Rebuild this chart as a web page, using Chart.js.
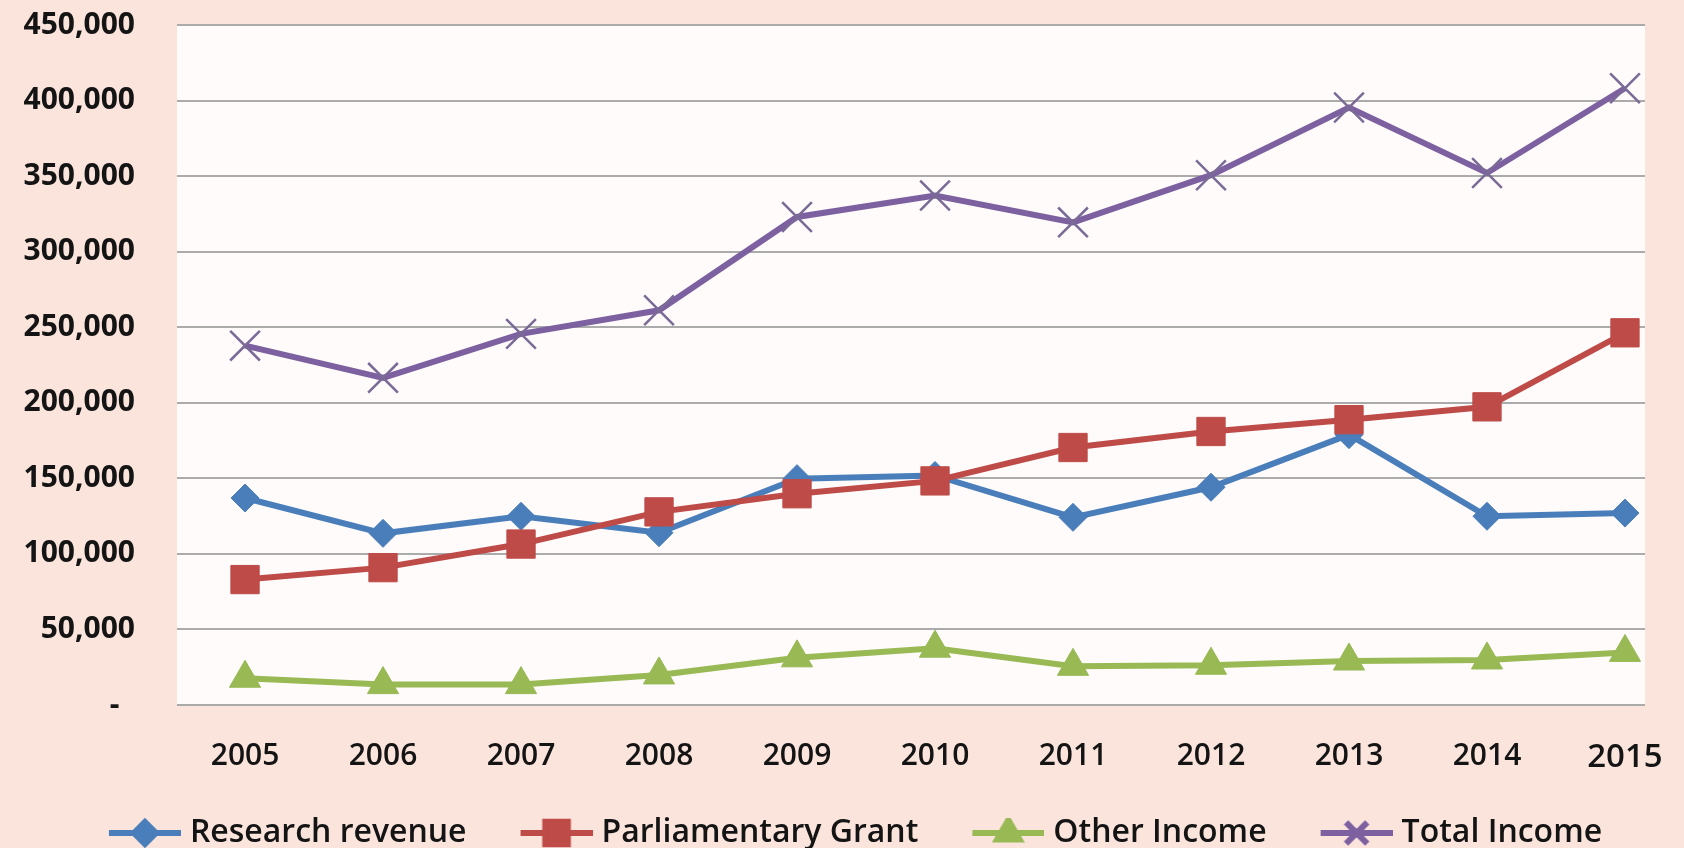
<!DOCTYPE html>
<html>
<head>
<meta charset="utf-8">
<script src="https://cdn.jsdelivr.net/npm/chart.js@4.4.1/dist/chart.umd.min.js"></script>
<style>
  html, body { margin: 0; padding: 0; background: #fbe4dc; }
  #wrap { width: 1684px; height: 848px; position: relative; }
</style>
</head>
<body>
<div id="wrap"><canvas id="c" width="1684" height="848"></canvas></div>
<script>
// ---- data ----
const years = [2005, 2006, 2007, 2008, 2009, 2010, 2011, 2012, 2013, 2014, 2015];
const researchRevenue    = [137000, 113600, 124900, 114000, 149800, 151900, 124200, 144100, 178900, 124900, 127000];
const parliamentaryGrant = [ 83000,  90900, 106500, 127800, 139800, 148300, 170400, 181000, 188800, 197300, 246300];
const otherIncome        = [ 17700,  13500,  13500,  19900,  31200,  37600,  25600,  26300,  29100,  29800,  34800];
const totalIncome        = [237800, 216500, 245600, 261200, 323000, 337200, 319400, 350600, 395400, 352100, 408100];
const seriesNames = ['Research revenue', 'Parliamentary Grant', 'Other Income', 'Total Income'];
const yTickValues = [0, 50000, 100000, 150000, 200000, 250000, 300000, 350000, 400000, 450000];

// ---- styles ----
const colors = ['#4A7EBB', '#BE4B48', '#98B954', '#7D60A0'];
const FONT = "'Open Sans', 'Liberation Sans', sans-serif";
const TRANSPARENT = 'rgba(0,0,0,0)';

function pts(vals) { return years.map((y, i) => ({ x: y, y: vals[i] })); }

// legend symbol: line with marker; transparent left margin adds spacing between items
function legendIcon(color, pointStyle, radius, borderWidth) {
  const c = document.createElement('canvas');
  c.width = 93; c.height = 30;
  const g = c.getContext('2d');
  g.strokeStyle = color; g.lineWidth = 6; g.lineCap = 'butt';
  g.beginPath(); g.moveTo(21, 15); g.lineTo(93, 15); g.stroke();
  g.fillStyle = color; g.strokeStyle = color;
  Chart.helpers.drawPoint(g, { pointStyle, radius, borderWidth, rotation: 0 }, 57, 15);
  return c;
}

const icons = [
  legendIcon(colors[0], 'rectRot', 11, 1),
  legendIcon(colors[1], 'rect', 16, 1),
  legendIcon(colors[2], 'triangle', 13, 1),
  legendIcon(colors[3], 'crossRot', 15, 2)
];

const bgPlugin = {
  id: 'bg',
  beforeDraw(chart) {
    const { ctx, chartArea: a } = chart;
    ctx.save();
    ctx.fillStyle = '#fbe4dc';
    ctx.fillRect(0, 0, chart.width, chart.height);
    ctx.fillStyle = '#fefbfa';
    ctx.fillRect(a.left, a.top, a.right - a.left, a.bottom - a.top);
    ctx.restore();
  }
};

const baseDs = { tension: 0, borderWidth: 6, clip: false, pointHoverRadius: 0 };

new Chart(document.getElementById('c'), {
  type: 'line',
  data: {
    datasets: [
      Object.assign({}, baseDs, {
        label: seriesNames[0], data: pts(researchRevenue), order: 2,
        borderColor: colors[0], backgroundColor: colors[0],
        pointStyle: 'rectRot', pointRadius: 14, pointBorderWidth: 1,
        pointBackgroundColor: colors[0], pointBorderColor: colors[0]
      }),
      Object.assign({}, baseDs, {
        label: seriesNames[1], data: pts(parliamentaryGrant), order: 1,
        borderColor: colors[1], backgroundColor: colors[1],
        pointStyle: 'rect', pointRadius: 20, pointBorderWidth: 1,
        pointBackgroundColor: colors[1], pointBorderColor: colors[1]
      }),
      Object.assign({}, baseDs, {
        label: seriesNames[2], data: pts(otherIncome), order: 3,
        borderColor: colors[2], backgroundColor: colors[2],
        pointStyle: 'triangle', pointRadius: 18, pointBorderWidth: 1,
        pointBackgroundColor: colors[2], pointBorderColor: colors[2]
      }),
      Object.assign({}, baseDs, {
        label: seriesNames[3], data: pts(totalIncome), order: 0,
        borderColor: colors[3], backgroundColor: colors[3],
        pointStyle: 'crossRot', pointRadius: 21, pointBorderWidth: 2.5,
        pointBackgroundColor: colors[3], pointBorderColor: '#7A6A96'
      })
    ]
  },
  options: {
    responsive: false,
    animation: false,
    events: [],
    layout: { padding: { top: 25, right: 0, bottom: 0, left: 13 } },
    plugins: {
      tooltip: { enabled: false },
      legend: {
        position: 'bottom',
        maxHeight: 71,
        labels: {
          usePointStyle: true,
          pointStyleWidth: 79,
          padding: 40,
          color: '#141414',
          font: { family: FONT, size: 32, weight: '600' },
          generateLabels(chart) {
            return chart.data.datasets.map((ds, i) => ({
              text: ds.label, pointStyle: icons[i], fillStyle: ds.borderColor,
              strokeStyle: ds.borderColor, lineWidth: 0, hidden: false,
              datasetIndex: i, fontColor: '#141414'
            }));
          }
        }
      }
    },
    scales: {
      x: {
        type: 'linear',
        min: 2004.507,
        max: 2015.145,
        grid: { display: true, drawOnChartArea: false, drawTicks: true, tickLength: 30, tickColor: TRANSPARENT, color: TRANSPARENT },
        border: { display: false },
        afterBuildTicks(axis) { axis.ticks = years.map(v => ({ value: v })); },
        afterFit(scale) { scale.height = 72; },
        ticks: {
          padding: 3,
          autoSkip: false,
          maxRotation: 0,
          color: '#141414',
          font(ctx) {
            const last = ctx.tick && ctx.tick.value === 2015;
            return { family: FONT, size: last ? 33 : 30, weight: '600' };
          },
          callback: v => String(v)
        }
      },
      y: {
        min: 0,
        max: 450000,
        afterBuildTicks(axis) { axis.ticks = yTickValues.map(v => ({ value: v })); },
        afterFit(scale) { scale.width = 164; },
        grid: { color: '#ababab', lineWidth: 2, drawTicks: true, tickLength: 40, tickColor: TRANSPARENT },
        border: { display: false },
        ticks: {
          padding: 2,
          color: '#141414',
          font: { family: FONT, size: 30, weight: '700' },
          callback: v => v === 0 ? '-  ' : v.toLocaleString('en-US')
        }
      },
      yRight: {
        position: 'right',
        display: true,
        grid: { display: false, drawTicks: false },
        border: { display: false },
        ticks: { display: false },
        afterFit(scale) { scale.width = 39; }
      }
    }
  },
  plugins: [bgPlugin]
});
</script>
</body>
</html>
